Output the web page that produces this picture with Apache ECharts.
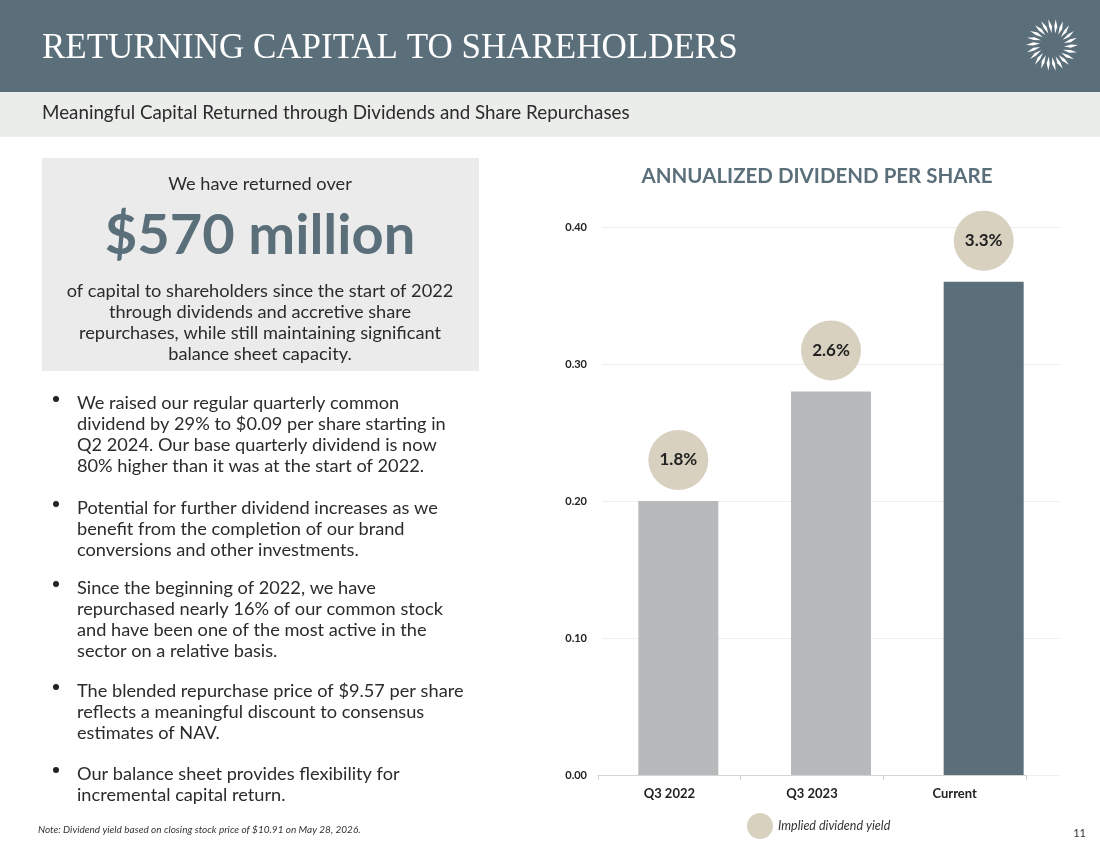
<!DOCTYPE html>
<html>
<head>
<meta charset="utf-8">
<script src="https://cdn.jsdelivr.net/npm/echarts@6/dist/echarts.min.js"></script>
<style>
  html, body { margin: 0; padding: 0; background: #fff; }
  #chart { width: 1100px; height: 849px; }
</style>
</head>
<body>
<div id="chart"></div>
<script>
/* chart data */
const categories = ['Q3 2022', 'Q3 2023', 'Current'];
const dividendPerShare = [0.20, 0.28, 0.36];
const impliedYield = ['1.8%', '2.6%', '3.3%'];
const yMin = 0, yMax = 0.40, yStep = 0.10;

/* slide text */
const bullets = [
  ['We raised our regular quarterly common', 'dividend by 29% to $0.09 per share starting in', 'Q2 2024. Our base quarterly dividend is now', '80% higher than it was at the start of 2022.'],
  ['Potential for further dividend increases as we', 'benefit from the completion of our brand', 'conversions and other investments.'],
  ['Since the beginning of 2022, we have', 'repurchased nearly 16% of our common stock', 'and have been one of the most active in the', 'sector on a relative basis.'],
  ['The blended repurchase price of $9.57 per share', 'reflects a meaningful discount to consensus', 'estimates of NAV.'],
  ['Our balance sheet provides flexibility for', 'incremental capital return.']
];
const boxLines = ['of capital to shareholders since the start of 2022', 'through dividends and accretive share', 'repurchases, while still maintaining significant', 'balance sheet capacity.'];

const SLATE = '#5b6f7b';
const SANS = 'Lato, "Noto Sans", sans-serif';

const el = document.getElementById('chart');
const chart = echarts.init(el, null, { renderer: 'canvas' });

/* header, text blocks */
const graphics = [
  { type: 'rect', shape: { x: 0, y: 0, width: 1100, height: 92 }, style: { fill: SLATE }, z: -1 },
  { type: 'rect', shape: { x: 0, y: 92, width: 1100, height: 45 }, style: { fill: '#ebedea' }, z: -1 },
  { type: 'text', x: 42, y: 49, style: { text: 'RETURNING CAPITAL TO SHAREHOLDERS', fill: '#fff', font: '35px "Liberation Serif", serif', textVerticalAlign: 'middle' } },
  { type: 'text', x: 42, y: 113, style: { text: 'Meaningful Capital Returned through Dividends and Share Repurchases', fill: '#2b2b2b', font: '18.8px ' + SANS, textVerticalAlign: 'middle' } },
  { type: 'rect', shape: { x: 42, y: 158, width: 437, height: 213 }, style: { fill: '#ebebeb' }, z: -1 },
  { type: 'text', x: 260, y: 184, style: { text: 'We have returned over', fill: '#2b2b2b', font: '18.2px ' + SANS, textAlign: 'center', textVerticalAlign: 'middle' } },
  { type: 'text', x: 260, y: 236, style: { text: '$570 million', fill: SLATE, font: 'bold 56px ' + SANS, textAlign: 'center', textVerticalAlign: 'middle' } },
  { type: 'text', x: 260, y: 281, style: { text: boxLines.join('\n'), fill: '#2b2b2b', font: '18.2px ' + SANS, lineHeight: 21, textAlign: 'center', textVerticalAlign: 'top' } },
  { type: 'text', x: 38, y: 830, style: { text: 'Note: Dividend yield based on closing stock price of $10.91 on May 28, 2026.', fill: '#333', font: 'italic 10px ' + SANS, textVerticalAlign: 'middle' } },
  { type: 'text', x: 1086, y: 833, style: { text: '11', fill: '#333', font: '11px ' + SANS, textAlign: 'right', textVerticalAlign: 'middle' } },
  { type: 'text', x: 817, y: 176, style: { text: 'ANNUALIZED DIVIDEND PER SHARE', fill: SLATE, font: 'bold 20.5px ' + SANS, textAlign: 'center', textVerticalAlign: 'middle' } }
];

/* bullet list */
const bulletTops = [392, 497, 577, 680, 763];
bullets.forEach((lines, i) => {
  graphics.push({ type: 'text', x: 77, y: bulletTops[i], style: { text: lines.join('\n'), fill: '#2b2b2b', font: '18.2px ' + SANS, lineHeight: 21.3, textVerticalAlign: 'top' } });
  graphics.push({ type: 'circle', shape: { cx: 56, cy: bulletTops[i] + 7, r: 3 }, style: { fill: '#222' } });
});

/* logo: sunburst of petals */
const LX = 1052, LY = 45, N = 22;
for (let k = 0; k < N; k++) {
  const a = k / N * Math.PI * 2;
  const r0 = 12, r1 = 26, w = 0.08;
  const p = (r, ang) => [LX + r * Math.cos(ang), LY + r * Math.sin(ang)];
  graphics.push({
    type: 'polygon',
    shape: { points: [p(r0, a + 0.12), p((r0 + r1) / 2, a - w + 0.06), p(r1, a), p((r0 + r1) / 2, a + w + 0.06)] },
    style: { fill: '#fff' }
  });
}

const option = {
  animation: false,
  textStyle: { fontFamily: SANS },
  graphic: { elements: graphics },
  legend: {
    left: 742, top: 808,
    icon: 'circle', itemWidth: 26, itemHeight: 26, itemGap: 8,
    textStyle: { fontStyle: 'italic', fontSize: 12.5, color: '#333' },
    data: ['Implied dividend yield']
  },
  grid: [
    { left: 602, right: 40, top: 227, bottom: 74 },
    { left: 598, right: 74, top: 227, bottom: 74 }
  ],
  xAxis: [
    { type: 'category', gridIndex: 0, data: categories, axisLine: { show: false }, axisTick: { show: false }, axisLabel: { show: false } },
    {
      type: 'category', gridIndex: 1, data: categories,
      axisLine: { lineStyle: { color: '#d4d4d4' } },
      axisTick: { show: true, length: 5, lineStyle: { color: '#d4d4d4' } },
      axisLabel: { margin: 12, fontSize: 13, fontWeight: 'bold', color: '#222' }
    }
  ],
  yAxis: [
    {
      type: 'value', gridIndex: 0, min: yMin, max: yMax, interval: yStep,
      axisLine: { show: false }, axisTick: { show: false },
      axisLabel: { margin: 15, fontSize: 11, fontWeight: 'bold', color: '#222', formatter: v => v.toFixed(2) },
      splitLine: { lineStyle: { color: '#efefef' } }
    },
    { type: 'value', gridIndex: 1, min: yMin, max: yMax, show: false, splitLine: { show: false } }
  ],
  series: [
    {
      type: 'bar', xAxisIndex: 0, yAxisIndex: 0, barWidth: 80,
      data: dividendPerShare,
      itemStyle: { color: p => p.dataIndex === dividendPerShare.length - 1 ? SLATE : '#b8b9bb' }
    },
    {
      name: 'Implied dividend yield',
      type: 'scatter', xAxisIndex: 0, yAxisIndex: 0,
      data: dividendPerShare,
      symbol: 'circle', symbolSize: 60, symbolOffset: [0, -41],
      itemStyle: { color: '#d8d1c0', opacity: 1 },
      label: { show: true, position: 'inside', formatter: p => impliedYield[p.dataIndex], fontSize: 17, fontWeight: 'bold', color: '#222' },
      z: 3
    }
  ]
};

chart.setOption(option);
</script>
</body>
</html>
